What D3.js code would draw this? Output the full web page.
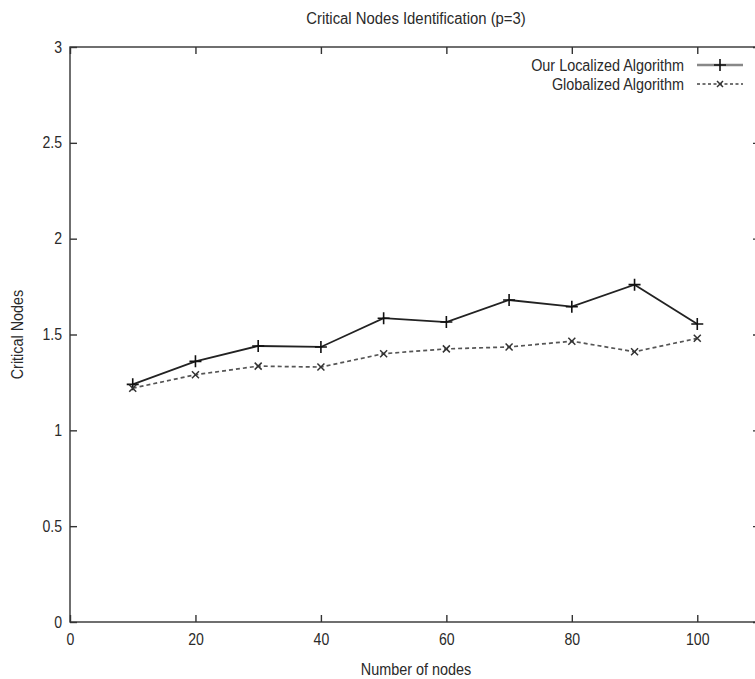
<!DOCTYPE html>
<html>
<head>
<meta charset="utf-8">
<script src="https://cdn.jsdelivr.net/npm/d3@7"></script>
<style>
  body { margin: 0; background: #fff; }
  svg text { font-family: "Liberation Sans", Arial, sans-serif; fill: #2a2a2a; }
</style>
</head>
<body>
<div id="chart"></div>
<script>
const nodes = [10, 20, 30, 40, 50, 60, 70, 80, 90, 100];
const localized = [1.24, 1.36, 1.44, 1.435, 1.585, 1.565, 1.68, 1.645, 1.76, 1.555];
const globalized = [1.22, 1.29, 1.335, 1.33, 1.40, 1.425, 1.435, 1.465, 1.41, 1.48];
const xTicks = [0, 20, 40, 60, 80, 100];
const yTicks = [0, 0.5, 1, 1.5, 2, 2.5, 3];

const width = 755, height = 679;
const margin = { top: 47, right: -5, bottom: 57, left: 70 };
const innerW = width - margin.left - margin.right;
const innerH = height - margin.top - margin.bottom;
const fontSize = "16px";

// squeeze text horizontally, the original uses a narrow font
function condense(sel, k) {
    sel.each(function () {
        const len = this.getComputedTextLength();
        d3.select(this).attr("textLength", len * k).attr("lengthAdjust", "spacingAndGlyphs");
    });
}

const svg = d3.select("#chart").append("svg")
    .attr("width", width)
    .attr("height", height);

const g = svg.append("g")
    .attr("transform", `translate(${margin.left},${margin.top})`);

const x = d3.scaleLinear().domain([0, 110]).range([0, innerW]);
const y = d3.scaleLinear().domain([0, 3]).range([innerH, 0]);

// frame
g.append("rect")
    .attr("width", innerW).attr("height", innerH)
    .attr("fill", "none").attr("stroke", "#333").attr("stroke-width", 1.4);

// ticks inward, mirrored on top and right
const tickLen = 7;
const fmt = d3.format("~g");
g.append("g").attr("transform", `translate(0,${innerH})`)
    .call(d3.axisBottom(x).tickValues(xTicks).tickSize(-tickLen).tickPadding(12).tickFormat(fmt))
    .call(a => a.select(".domain").remove())
    .call(a => a.selectAll("line").attr("stroke", "#333").attr("stroke-width", 1.4))
    .call(a => a.selectAll("text").style("font-size", fontSize).attr("fill", "#2a2a2a").call(condense, 0.88));
g.append("g")
    .call(d3.axisTop(x).tickValues(xTicks).tickSize(-tickLen).tickFormat(""))
    .call(a => a.select(".domain").remove())
    .call(a => a.selectAll("line").attr("stroke", "#333").attr("stroke-width", 1.4));
g.append("g")
    .call(d3.axisLeft(y).tickValues(yTicks).tickSize(-tickLen).tickPadding(8).tickFormat(fmt))
    .call(a => a.select(".domain").remove())
    .call(a => a.selectAll("line").attr("stroke", "#333").attr("stroke-width", 1.4))
    .call(a => a.selectAll("text").style("font-size", fontSize).attr("fill", "#2a2a2a").call(condense, 0.88));
g.append("g").attr("transform", `translate(${innerW},0)`)
    .call(d3.axisRight(y).tickValues(yTicks).tickSize(-tickLen).tickFormat(""))
    .call(a => a.select(".domain").remove())
    .call(a => a.selectAll("line").attr("stroke", "#333").attr("stroke-width", 1.4));

// title and axis labels
svg.append("text")
    .attr("x", 416).attr("y", 24)
    .attr("text-anchor", "middle").style("font-size", fontSize)
    .text("Critical Nodes Identification (p=3)")
    .call(condense, 0.93);
svg.append("text")
    .attr("x", 416).attr("y", 675)
    .attr("text-anchor", "middle").style("font-size", fontSize)
    .text("Number of nodes")
    .call(condense, 0.9);
svg.append("text")
    .attr("transform", `translate(23,${margin.top + innerH / 2}) rotate(-90)`)
    .attr("text-anchor", "middle").style("font-size", fontSize)
    .text("Critical Nodes")
    .call(condense, 0.9);

const line = d3.line().x(d => x(d[0])).y(d => y(d[1]));
const locData = nodes.map((n, i) => [n, localized[i]]);
const gloData = nodes.map((n, i) => [n, globalized[i]]);

g.append("path").datum(locData).attr("d", line)
    .attr("fill", "none").attr("stroke", "#222").attr("stroke-width", 1.8);
g.append("path").datum(gloData).attr("d", line)
    .attr("fill", "none").attr("stroke", "#555").attr("stroke-width", 1.7)
    .attr("stroke-dasharray", "4,3");

function drawPlus(sel, cx, cy, s) {
    sel.append("path")
        .attr("d", `M${cx - s},${cy}H${cx + s}M${cx},${cy - s}V${cy + s}`)
        .attr("stroke", "#111").attr("stroke-width", 1.6).attr("fill", "none");
}
function drawX(sel, cx, cy, s) {
    sel.append("path")
        .attr("d", `M${cx - s},${cy - s}L${cx + s},${cy + s}M${cx - s},${cy + s}L${cx + s},${cy - s}`)
        .attr("stroke", "#333").attr("stroke-width", 1.5).attr("fill", "none");
}
locData.forEach(d => drawPlus(g, x(d[0]), y(d[1]), 6));
gloData.forEach(d => drawX(g, x(d[0]), y(d[1]), 3.5));

// legend
const lg = svg.append("g");
lg.append("text").attr("x", 684).attr("y", 71).attr("text-anchor", "end")
    .style("font-size", fontSize).text("Our Localized Algorithm").call(condense, 0.9);
lg.append("text").attr("x", 684).attr("y", 90).attr("text-anchor", "end")
    .style("font-size", fontSize).text("Globalized Algorithm").call(condense, 0.9);
lg.append("line").attr("x1", 697).attr("x2", 743).attr("y1", 65).attr("y2", 65)
    .attr("stroke", "#888").attr("stroke-width", 2.4);
drawPlus(lg, 720, 65, 6);
lg.append("line").attr("x1", 697).attr("x2", 743).attr("y1", 84).attr("y2", 84)
    .attr("stroke", "#444").attr("stroke-width", 1.5).attr("stroke-dasharray", "3,2.5");
drawX(lg, 720, 84, 3);
</script>
</body>
</html>
